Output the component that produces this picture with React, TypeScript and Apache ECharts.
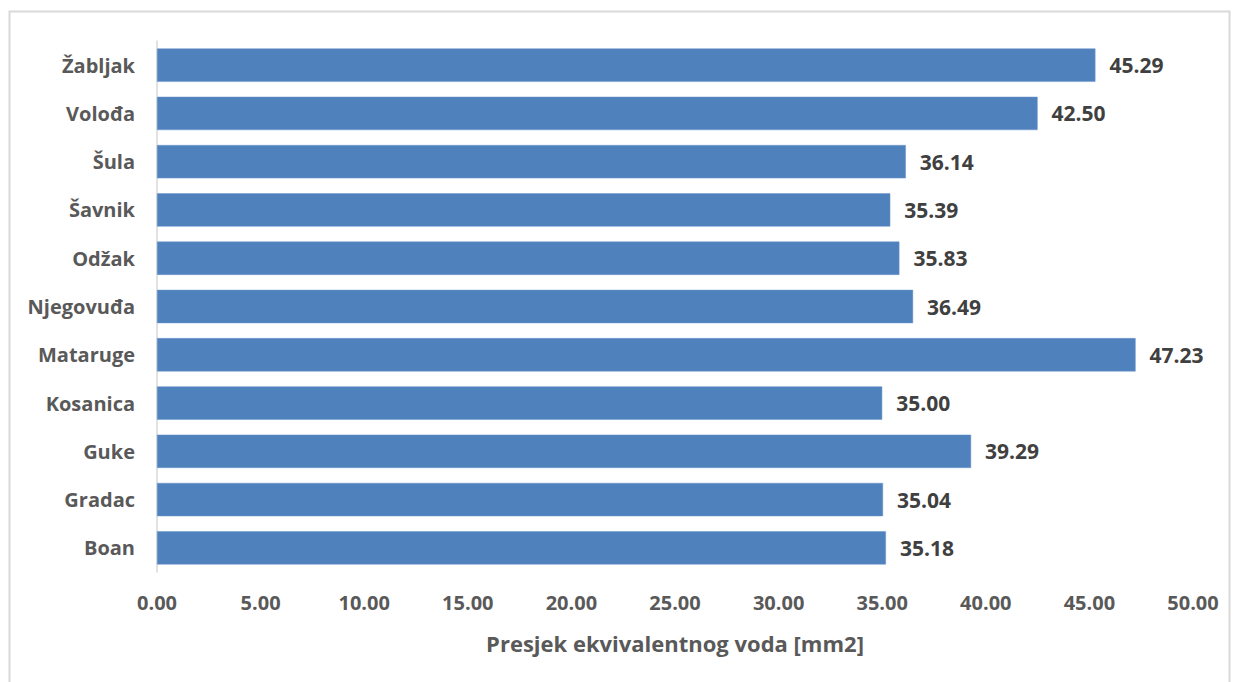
import React, { useEffect, useRef } from "react";
import * as echarts from "echarts";

const categories = ["Boan", "Gradac", "Guke", "Kosanica", "Mataruge", "Njegovuđa", "Odžak", "Šavnik", "Šula", "Volođa", "Žabljak"];
const values = [35.18, 35.04, 39.29, 35.0, 47.23, 36.49, 35.83, 35.39, 36.14, 42.5, 45.29];
const axisTitle = "Presjek ekvivalentnog voda [mm2]";
const xMin = 0;
const xMax = 50;
const xInterval = 5;

const FONT = "'Open Sans', 'Noto Sans', sans-serif";

export default function App() {
  const ref = useRef<HTMLDivElement>(null);
  useEffect(() => {
    if (!ref.current) return;
    const chart = echarts.init(ref.current, undefined, { renderer: "svg" });
    chart.setOption({
      animation: false,
      backgroundColor: "#ffffff",
      graphic: [
        {
          type: "rect",
          shape: { x: 9.5, y: 11.5, width: 1220, height: 690 },
          style: { fill: "none", stroke: "#d9d9d9", lineWidth: 2 },
          silent: true,
        },
      ],
      grid: { left: 157, right: 45, top: 41, bottom: 110 },
      xAxis: {
        type: "value",
        min: xMin,
        max: xMax,
        interval: xInterval,
        name: axisTitle,
        nameLocation: "middle",
        nameGap: 60,
        nameTextStyle: { color: "#595959", fontSize: 22, fontWeight: "bold", fontFamily: FONT },
        axisLine: { show: false },
        axisTick: { show: false },
        splitLine: { show: false },
        axisLabel: {
          color: "#595959",
          fontSize: 20,
          fontWeight: "bold",
          fontFamily: FONT,
          margin: 20,
          formatter: (v: number) => v.toFixed(2),
        },
      },
      yAxis: {
        type: "category",
        data: categories,
        axisLine: { show: true, lineStyle: { color: "#d9d9d9", width: 1.5 } },
        axisTick: { show: false },
        axisLabel: {
          color: "#595959",
          fontSize: 20,
          fontWeight: "bold",
          fontFamily: FONT,
          margin: 22,
        },
      },
      series: [
        {
          type: "bar",
          data: values,
          barCategoryGap: "31%",
          itemStyle: { color: "#4f81bd", borderColor: "#6b97cc", borderWidth: 0.5 },
          label: {
            show: true,
            position: "right",
            distance: 14,
            color: "#404040",
            fontSize: 21,
            fontWeight: "bold",
            fontFamily: FONT,
            formatter: (p: any) => Number(p.value).toFixed(2),
          },
        },
      ],
    });
    return () => chart.dispose();
  }, []);
  return (
    <div
      ref={ref}
      style={{ position: "absolute", left: 0, top: 0, width: 1238, height: 682 }}
    />
  );
}
